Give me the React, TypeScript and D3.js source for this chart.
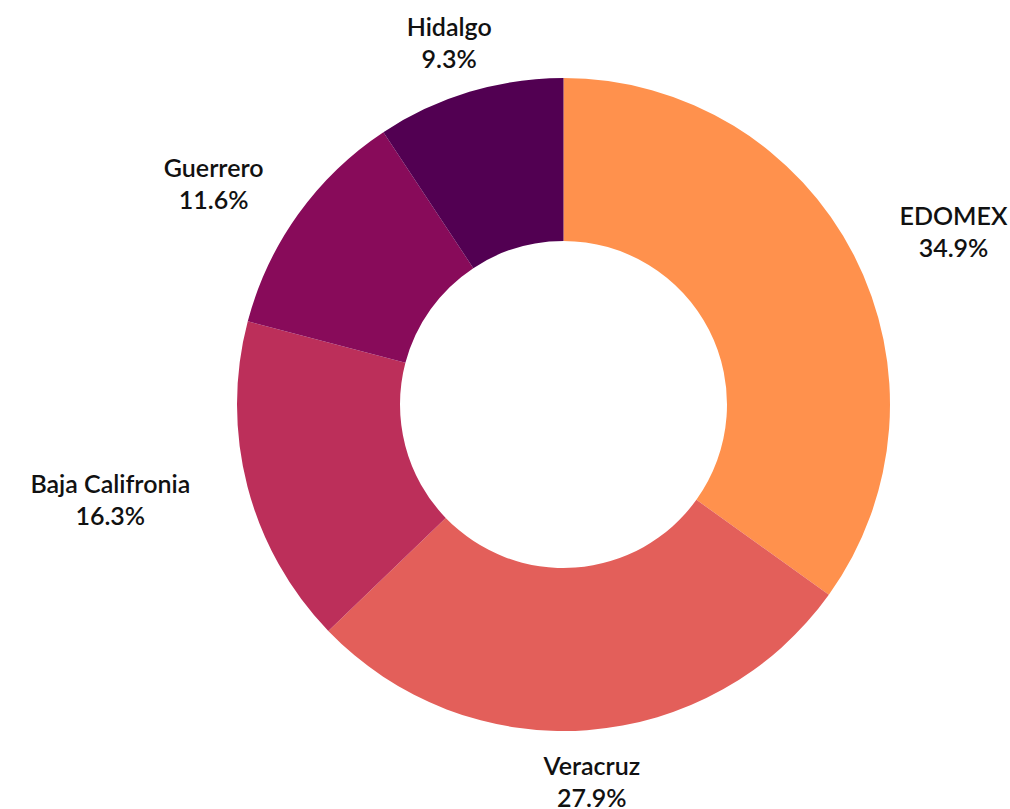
import React, { useEffect, useRef } from "react";
import * as d3 from "d3";

const categories = ["EDOMEX", "Veracruz", "Baja Califronia", "Guerrero", "Hidalgo"];
const values = [34.9, 27.9, 16.3, 11.6, 9.3];
const colors = ["#FF914D", "#E35F5A", "#BC2F5A", "#880B5A", "#520052"];

const W = 1010;
const H = 809;

export default function App() {
  const ref = useRef<SVGSVGElement | null>(null);

  useEffect(() => {
    const svg = d3.select(ref.current);
    svg.selectAll("*").remove();
    const cx = 563.5;
    const cy = 404.5;
    const outer = 326.5;
    const inner = 163.5;

    const data = categories.map((c, i) => ({ name: c, value: values[i], color: colors[i] }));
    const pie = d3.pie<any>().value((d: any) => d.value).sort(null);
    const arcs = pie(data);
    const arc = d3.arc<any>().innerRadius(inner).outerRadius(outer);

    const g = svg.append("g").attr("transform", `translate(${cx},${cy})`);
    g.selectAll("path")
      .data(arcs)
      .enter()
      .append("path")
      .attr("d", arc as any)
      .attr("fill", (d: any) => d.data.color);

    const lg = g.append("g");
    arcs.forEach((a: any) => {
      const theta = (a.startAngle + a.endAngle) / 2;
      const s = Math.sin(theta);
      const c = Math.cos(theta);
      const t = lg
        .append("text")
        .attr("text-anchor", "middle")
        .attr("font-family", "Lato, 'Open Sans', sans-serif")
        .attr("font-size", 25)
        .attr("font-weight", 600)
        .attr("fill", "#111");
      const t1 = t.append("tspan").text(a.data.name);
      const t2 = t.append("tspan").text(`${a.data.value.toFixed(1)}%`);
      const w = Math.max(
        (t1.node() as any).getComputedTextLength(),
        (t2.node() as any).getComputedTextLength()
      );
      const x = s * (340 + 50 * Math.abs(s)) + Math.sign(s) * (w / 2) * Math.abs(s);
      const y = -c * 378;
      t1.attr("x", x).attr("y", y - 7);
      t2.attr("x", x).attr("y", y + 25);
    });
  }, []);

  return (
    <svg ref={ref} width={W} height={H} style={{ position: "absolute", left: 0, top: 0, background: "#fff" }} />
  );
}
